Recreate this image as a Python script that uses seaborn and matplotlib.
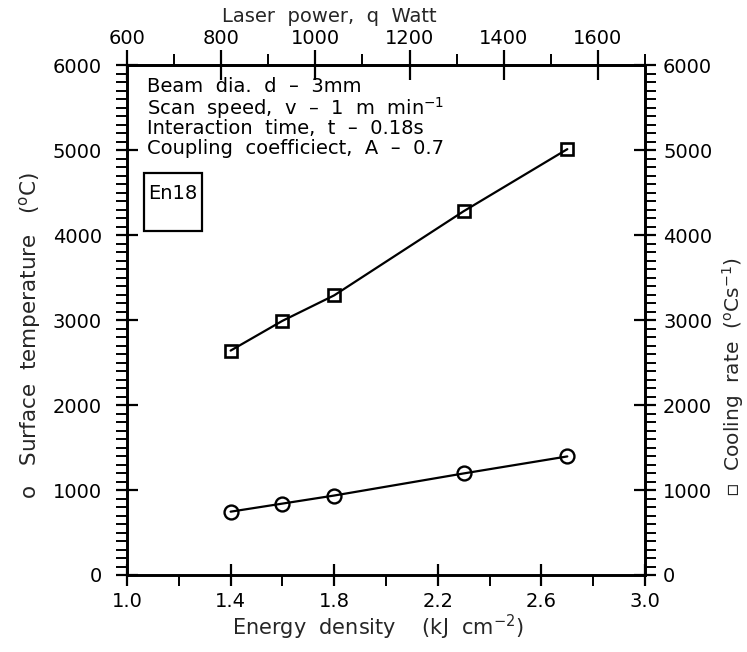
import matplotlib
matplotlib.use("Agg")
import matplotlib.pyplot as plt
import seaborn as sns
import pandas as pd
from matplotlib.ticker import MultipleLocator
from matplotlib.patches import Rectangle

# ---- data ----
energy_density = [1.4, 1.6, 1.8, 2.3, 2.7]            # kJ cm^-2
surface_temperature = [745, 840, 935, 1195, 1395]     # deg C
cooling_rate = [2640, 2990, 3290, 4280, 5010]         # deg C s^-1
bottom_ticks = [1.0, 1.4, 1.8, 2.2, 2.6, 3.0]
top_ticks = [600, 800, 1000, 1200, 1400, 1600]
y_ticks = [0, 1000, 2000, 3000, 4000, 5000, 6000]
info_lines = [
    "Beam  dia.  d  \u2013  3mm",
    "Scan  speed,  v  \u2013  1  m  min$^{-1}$",
    "Interaction  time,  t  \u2013  0.18s",
    "Coupling  coefficiect,  A  \u2013  0.7",
]
material = "En18"
x_label = "Energy  density    (kJ  cm$^{-2}$)"
top_label = "Laser  power,  q  Watt"
left_label = "o   Surface  temperature   ($^{\\mathrm{o}}$C)"
right_label = "\u25ab  Cooling  rate  ($^{\\mathrm{o}}$Cs$^{-1}$)"

df = pd.DataFrame({"E": energy_density, "T": surface_temperature, "C": cooling_rate})

sns.set_theme(style="ticks")
plt.rcParams["font.family"] = ["DejaVu Sans"]
plt.rcParams["mathtext.fontset"] = "dejavusans"

W, H = 747, 652
fig = plt.figure(figsize=(W / 100, H / 100), dpi=100)
ax = fig.add_axes([127 / W, 1 - 575 / H, 518 / W, 510 / H])

fs = 14
sns.lineplot(data=df, x="E", y="T", ax=ax, color="black", lw=1.6,
             marker="o", markersize=10, markerfacecolor="none",
             markeredgecolor="black", markeredgewidth=1.7)
ax.set_xlim(1.0, 3.0)
ax.set_ylim(0, 6000)
ax.set_xticks(bottom_ticks)
ax.set_xticklabels([f"{v:.1f}" for v in bottom_ticks])
ax.xaxis.set_minor_locator(MultipleLocator(0.2))
ax.set_yticks(y_ticks)
ax.yaxis.set_minor_locator(MultipleLocator(100))
ax.set_xlabel("")
ax.set_ylabel("")

ax2 = ax.twinx()
sns.lineplot(data=df, x="E", y="C", ax=ax2, color="black", lw=1.6,
             marker="s", markersize=8, markerfacecolor="none",
             markeredgecolor="black", markeredgewidth=1.9)
ax2.set_ylim(0, 6000)
ax2.set_yticks(y_ticks)
ax2.yaxis.set_minor_locator(MultipleLocator(100))
ax2.set_xlim(1.0, 3.0)
ax2.set_xlabel("")
ax2.set_ylabel("")

axt = ax.secondary_xaxis("top", functions=(lambda e: 600 + (e - 1.0) * 550,
                                           lambda q: 1.0 + (q - 600) / 550))
axt.set_xticks(top_ticks)
axt.xaxis.set_minor_locator(MultipleLocator(100))

for a in (ax, ax2):
    for s in a.spines.values():
        s.set_linewidth(1.9)
        s.set_color("black")
axt.spines["top"].set_linewidth(1.9)
for a in (ax, ax2, axt):
    a.tick_params(which="major", direction="inout", length=16, width=1.6,
                  labelsize=fs, colors="black")
    a.tick_params(which="minor", direction="out", length=8, width=1.4, colors="black")
ax.tick_params(axis="y", which="major", pad=10)
ax.tick_params(axis="x", which="major", pad=4)
ax2.tick_params(axis="y", which="major", pad=5)
axt.tick_params(axis="x", which="major", length=22, pad=1)

# axis titles placed at the reference positions
fig.text(0.484 * 518 / W + 127 / W, 1 - 627 / H, x_label, fontsize=15,
         ha="center", va="center")
fig.text(0.39 * 518 / W + 127 / W, 1 - 16 / H, top_label, fontsize=14,
         ha="center", va="center")
fig.text(30 / W, 1 - 335 / H, left_label, fontsize=15.5, rotation=90,
         ha="center", va="center")
fig.text(733 / W, 1 - 377 / H, right_label, fontsize=14.5, rotation=90,
         ha="center", va="center")

y0 = 0.957
for i, line in enumerate(info_lines):
    ax.text(0.039, y0 - i * 0.0405, line, transform=ax.transAxes, fontsize=14,
            va="center", ha="left", color="black")

ax.add_patch(Rectangle((0.033, 0.675), 0.112, 0.113, transform=ax.transAxes,
                       fill=False, lw=1.6, ec="black"))
ax.text(0.089, 0.748, material, transform=ax.transAxes, fontsize=14,
        ha="center", va="center", color="black")

fig.savefig("out.png", dpi=100)
